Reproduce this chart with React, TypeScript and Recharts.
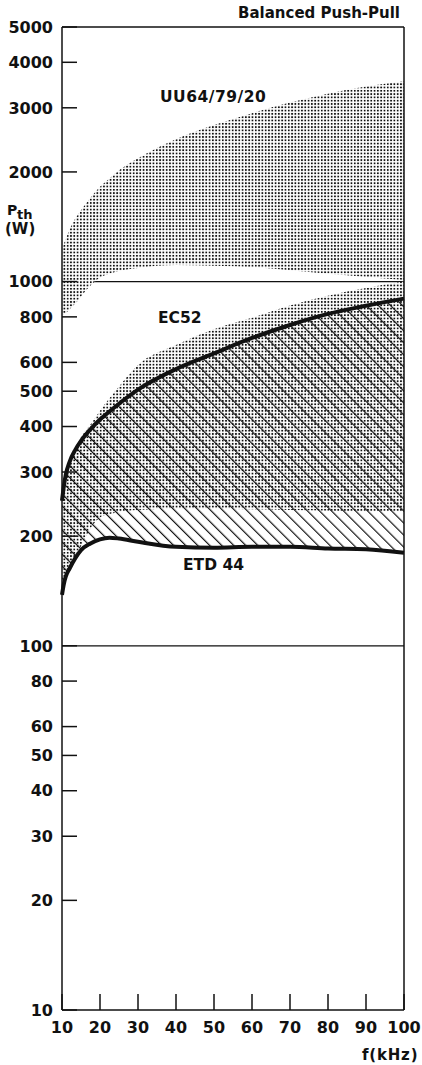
import { ComposedChart, Area, Line, XAxis, YAxis, ReferenceLine } from 'recharts'

// frequency (kHz) and throughput power limits (W)
const FREQ = [10, 10.5, 11, 12, 13.5, 15, 17.5, 20, 22.5, 25, 30, 40, 50, 60, 70, 80, 90, 100]
const UU_MIN = [810, 815, 820, 840, 870, 910, 975, 1025, 1050, 1070, 1090, 1110, 1105, 1095, 1075, 1050, 1030, 1010]
const UU_MAX = [1230, 1270, 1310, 1390, 1490, 1570, 1700, 1820, 1920, 2020, 2180, 2460, 2690, 2900, 3100, 3280, 3430, 3550]
const EC52_MIN = [138, 148, 155, 164, 176, 188, 210, 225, 230, 233, 236, 238, 238, 237, 236, 235, 234, 234]
const EC52_MAX = [252, 276, 297, 323, 350, 374, 405, 442, 478, 515, 590, 670, 740, 795, 860, 915, 960, 1000]
const ETD44_MIN = [138, 148, 155, 163, 174, 183, 191, 196, 198, 197, 193, 187, 186, 187, 187, 185, 184, 180]
const ETD44_MAX = [250, 275, 295, 320, 345, 365, 393, 418, 440, 462, 505, 575, 635, 700, 760, 815, 858, 898]

const X_TICKS = [10, 20, 30, 40, 50, 60, 70, 80, 90, 100]
const Y_TICKS = [10, 20, 30, 40, 50, 60, 70, 80, 90, 100, 200, 300, 400, 500, 600, 700, 800, 900, 1000, 2000, 3000, 4000, 5000]
const Y_UNLABELED = [70, 90, 700, 900]
const Y_RULES = [100, 1000]

const data = FREQ.map((f, i) => ({
  f,
  uu: [UU_MIN[i], UU_MAX[i]],
  ec52: [EC52_MIN[i], EC52_MAX[i]],
  etd44: [ETD44_MIN[i], ETD44_MAX[i]],
  etdTop: ETD44_MAX[i],
  etdBottom: ETD44_MIN[i],
}))

const INK = '#111'
const FONT = '"DejaVu Sans", sans-serif'
const PLOT_LEFT = 62
const PLOT_BOTTOM = 1010
const W = 422
const H = 1065
const MARGIN = { top: 27, right: 18, left: 0, bottom: 0 }
const layer = { position: 'absolute' as const, left: 0, top: 0 }

function YTick(props: any) {
  const { x, y, payload } = props
  const v = payload.value
  return (
    <g>
      <line x1={PLOT_LEFT} x2={PLOT_LEFT + 15} y1={y} y2={y} stroke={INK} strokeWidth={1.5} />
      {!Y_UNLABELED.includes(v) && (
        <text x={x} y={y} dy="0.36em" textAnchor="end" fontFamily={FONT} fontWeight="bold" fontSize={16} fill={INK}>
          {v}
        </text>
      )}
    </g>
  )
}

function XTick(props: any) {
  const { x, y, payload } = props
  return (
    <g>
      <line x1={x} x2={x} y1={PLOT_BOTTOM} y2={PLOT_BOTTOM - 16} stroke={INK} strokeWidth={1.5} />
      <text x={x} y={y} dy="0.71em" textAnchor="middle" fontFamily={FONT} fontWeight="bold" fontSize={16} fill={INK}>
        {payload.value}
      </text>
    </g>
  )
}

export default function App() {
  return (
    <div style={{ ...layer, width: W, height: H, background: '#fff' }}>
      <svg width={0} height={0} style={{ position: 'absolute' }}>
        <defs>
          <pattern id="dots" width={3.3} height={3.3} patternUnits="userSpaceOnUse">
            <rect width={3.3} height={3.3} fill="#fff" />
            <rect x={0.8} y={0.8} width={1.75} height={1.75} fill={INK} />
          </pattern>
          <pattern id="hatch" width={8.5} height={8.5} patternUnits="userSpaceOnUse" patternTransform="rotate(-45)">
            <line x1={0} y1={0} x2={0} y2={8.5} stroke={INK} strokeWidth={2.4} />
          </pattern>
        </defs>
      </svg>
      {/* decade rules sit underneath, so the stippled areas hide them */}
      <div style={layer}>
        <ComposedChart width={W} height={H} data={data} margin={MARGIN}>
          <XAxis dataKey="f" type="number" domain={[10, 100]} height={55} tick={false} axisLine={false} tickLine={false} />
          <YAxis scale="log" domain={[10, 5000]} width={62} tick={false} axisLine={false} tickLine={false} allowDataOverflow />
          {Y_RULES.map((v) => (
            <ReferenceLine key={v} y={v} stroke={INK} strokeWidth={1.3} />
          ))}
        </ComposedChart>
      </div>
      <div style={layer}>
        <ComposedChart width={W} height={H} data={data} margin={MARGIN}>
          <XAxis
            dataKey="f"
            type="number"
            domain={[10, 100]}
            ticks={X_TICKS}
            height={55}
            tickSize={0}
            tickMargin={12}
            axisLine={{ stroke: INK, strokeWidth: 1.5 }}
            tick={<XTick />}
          />
          <YAxis
            scale="log"
            domain={[10, 5000]}
            ticks={Y_TICKS}
            width={62}
            tickSize={0}
            tickMargin={9}
            allowDataOverflow
            axisLine={{ stroke: INK, strokeWidth: 1.5 }}
            tick={<YTick />}
          />
          <Area dataKey="uu" type="monotone" fill="url(#dots)" fillOpacity={1} stroke="none" isAnimationActive={false} />
          <Area dataKey="ec52" type="monotone" fill="url(#dots)" fillOpacity={1} stroke="none" isAnimationActive={false} />
          <Area dataKey="etd44" type="monotone" fill="url(#hatch)" fillOpacity={1} stroke="none" isAnimationActive={false} />
          <Line dataKey="etdTop" type="monotone" stroke={INK} strokeWidth={4} dot={false} isAnimationActive={false} />
          <Line dataKey="etdBottom" type="monotone" stroke={INK} strokeWidth={4} dot={false} isAnimationActive={false} />
          <ReferenceLine x={100} stroke={INK} strokeWidth={1.5} />
          <ReferenceLine y={5000} stroke={INK} strokeWidth={1.5} />
        </ComposedChart>
      </div>
      <svg width={W} height={H} style={{ ...layer, pointerEvents: 'none' }}>
        <g fontFamily={FONT} fontWeight="bold" fill={INK}>
          <text x={400} y={18} fontSize={15} textAnchor="end">Balanced Push-Pull</text>
          <text x={160} y={102} fontSize={15.5} letterSpacing={0.5}>UU64/79/20</text>
          <text x={158} y={323} fontSize={15.5}>EC52</text>
          <text x={183} y={570} fontSize={15.5}>ETD 44</text>
          <text x={7} y={215} fontSize={14}>P</text>
          <text x={17} y={219} fontSize={13}>th</text>
          <text x={5} y={234} fontSize={15}>(W)</text>
          <text x={362} y={1060} fontSize={15} letterSpacing={0.8}>f(kHz)</text>
        </g>
      </svg>
    </div>
  )
}
